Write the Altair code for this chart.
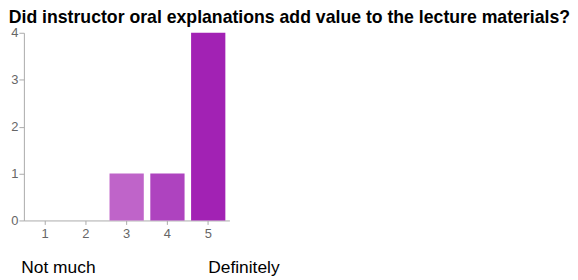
import altair as alt
import pandas as pd

ratings = ["1", "2", "3", "4", "5"]
counts = [0, 0, 1, 1, 4]
bar_colors = ["#d08ad8", "#c878d0", "#bf64c9", "#ae43bf", "#a222b4"]
y_ticks = [0, 1, 2, 3, 4]
title_text = "Did instructor oral explanations add value to the lecture materials?"
low_label = "Not much"
high_label = "Definitely"

df = pd.DataFrame({"rating": ratings, "count": counts})
low_df = pd.DataFrame({"rating": [ratings[0]], "label": [low_label]})
high_df = pd.DataFrame({"rating": [ratings[-1]], "label": [high_label]})

W, H = 207, 189
FONT = "Liberation Sans"

xenc = alt.X(
    "rating:N",
    sort=ratings,
    scale=alt.Scale(paddingInner=0.16, paddingOuter=0.1),
    axis=alt.Axis(title=None, labelAngle=0, labelFontSize=13, labelColor="#666666",
                  domainColor="#aaaaaa", tickColor="#aaaaaa", tickSize=4,
                  labelPadding=3, labelFont=FONT),
)

bars = alt.Chart(df).mark_bar().encode(
    x=xenc,
    y=alt.Y("count:Q", scale=alt.Scale(domain=[0, 4], nice=False),
            axis=alt.Axis(title=None, values=y_ticks, grid=False, labelFontSize=13,
                          labelColor="#666666", domainColor="#aaaaaa", tickColor="#aaaaaa",
                          tickSize=5, labelPadding=1, labelFont=FONT, format="d")),
    color=alt.Color("rating:N", scale=alt.Scale(domain=ratings, range=bar_colors), legend=None),
)

low = alt.Chart(low_df).mark_text(align="left", baseline="alphabetic", fontSize=17.5,
                                  font=FONT, color="#000000", dx=-24).encode(
    x=alt.X("rating:N", sort=ratings), y=alt.value(H + 53), text="label:N")
high = alt.Chart(high_df).mark_text(align="left", baseline="alphabetic", fontSize=17.5,
                                    font=FONT, color="#000000", dx=0).encode(
    x=alt.X("rating:N", sort=ratings), y=alt.value(H + 53), text="label:N")

chart = alt.layer(bars, low, high).properties(
    width=W, height=H,
    padding={"left": 0, "top": 0, "right": 0, "bottom": 0},
    title=alt.TitleParams(title_text, anchor="start", frame="bounds", font=FONT,
                          fontSize=17.8, fontWeight="bold", color="#000000", dx=-2, offset=0),
).configure_view(stroke=None).configure_axis(ticks=True)

chart.save("out.html", embed_options={"renderer": "svg", "actions": False})
